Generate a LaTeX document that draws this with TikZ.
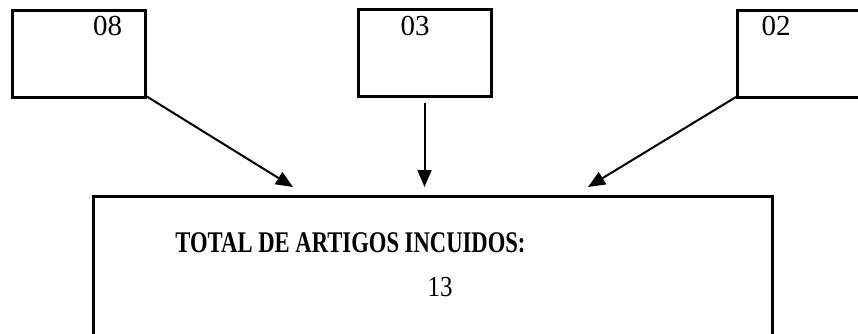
\documentclass[tikz,border=0pt]{standalone}
\usepackage{fontspec}
\setmainfont{Liberation Serif}
\usepackage{graphicx}
\usepackage{tikz}
\usetikzlibrary{arrows.meta}

\tikzset{
  countbox/.style={draw,line width=1.5pt,inner sep=0pt,outer sep=0pt,
    minimum width=66.5pt,minimum height=43.5pt},
  totalbox/.style={draw,line width=1.5pt,inner sep=0pt,outer sep=0pt,
    minimum width=339.5pt,minimum height=74.5pt},
  count/.style={anchor=base,inner sep=0pt,font=\fontsize{14.5}{17}\selectfont},
  link/.style={line width=1pt,-{Triangle[length=8.5pt,width=7pt]}}
}

\begin{document}
\begin{tikzpicture}[x=0.5pt,y=-0.5pt]
        % page frame, the right box runs off the edge
        \clip (0,0) rectangle (858,333);
        % sources
        \node[countbox] (box08) at (78.5,53.5) {};
        \node[countbox] (box03) at (424.5,53) {};
        \node[countbox] (box02) at (803.5,53.5) {};
        \node[count] (n08) at (107.5,35) {08};
        \node[count] (n03) at (415,35) {03};
        \node[count] (n02) at (776,35) {02};
        % total
        \node[totalbox] (total) at (432.5,270.5) {};
        \node[anchor=base,inner sep=0pt,font=\fontsize{15}{18}\selectfont\bfseries]
          (head) at (350.5,252) {\scalebox{0.755}[1]{TOTAL DE ARTIGOS INCUIDOS:}};
        \node[count] (sum) at (440,296) {\scalebox{0.86}[1]{13}};
        % arrows into the total
        \coordinate (in08) at (293,187);
        \coordinate (in03) at (424.5,187);
        \coordinate (in02) at (588,187);
        \draw[link] ([shift={(1,-1)}]box08.south east) -- (in08);
        \draw[link] ([yshift=-3pt]box03.south) -- (in03);
        \draw[link] ([shift={(-1,0)}]box02.south west) -- (in02);
\end{tikzpicture}
\end{document}
